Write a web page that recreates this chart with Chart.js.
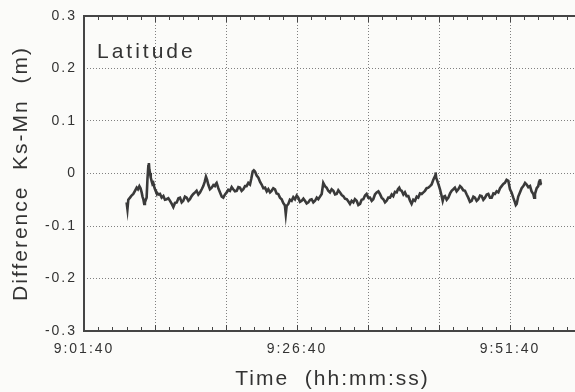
<!DOCTYPE html>
<html>
<head>
<meta charset="utf-8">
<script src="https://cdn.jsdelivr.net/npm/chart.js@4.4.1/dist/chart.umd.min.js"></script>
<style>
  html, body { margin: 0; padding: 0; background: #fbfbf9; overflow: hidden; }
  #wrap { width: 600px; height: 392px; }
</style>
</head>
<body>
<div id="wrap"><canvas id="chart" width="600" height="392"></canvas></div>
<script>
// time of day in seconds
const times = [
  32800, 32806, 32812, 32824, 32835, 32847, 32859, 32871, 32880, 32890,
  32898, 32906, 32912, 32918, 32924, 32929, 32935, 32941, 32947, 32953,
  32957, 32960, 32965, 32970, 32976, 32982, 32988, 32994, 33000, 33006,
  33012, 33024, 33035, 33047, 33059, 33070, 33082, 33094, 33106, 33118,
  33129, 33141, 33153, 33165, 33176, 33188, 33199, 33211, 33223, 33235,
  33246, 33258, 33270, 33282, 33293, 33305, 33317, 33329, 33340, 33350,
  33359, 33367, 33375, 33387, 33399, 33411, 33422, 33428, 33434, 33446,
  33458, 33470, 33481, 33493, 33505, 33516, 33528, 33540, 33551, 33563,
  33575, 33587, 33598, 33610, 33622, 33634, 33645, 33657, 33669, 33678,
  33688, 33696, 33704, 33716, 33728, 33740, 33751, 33763, 33775, 33787,
  33798, 33810, 33821, 33833, 33845, 33856, 33868, 33880, 33892, 33903,
  33915, 33921, 33927, 33939, 33950, 33962, 33974, 33986, 33998, 34009,
  34021, 34033, 34045, 34056, 34068, 34080, 34092, 34103, 34115, 34127,
  34139, 34150, 34162, 34174, 34185, 34197, 34209, 34220, 34232, 34244,
  34256, 34268, 34279, 34291, 34303, 34315, 34326, 34338, 34350, 34361,
  34373, 34385, 34397, 34408, 34420, 34432, 34444, 34455, 34467, 34479,
  34490, 34502, 34514, 34526, 34537, 34549, 34561, 34573, 34584, 34596,
  34608, 34620, 34631, 34643, 34655, 34667, 34678, 34690, 34702, 34711,
  34720, 34728, 34737, 34749, 34760, 34772, 34784, 34796, 34807, 34819,
  34831, 34843, 34854, 34866, 34878, 34890, 34901, 34913, 34925, 34937,
  34948, 34960, 34972, 34976, 34980, 34988, 34998, 35007, 35016, 35026,
  35034, 35042, 35054, 35066, 35078, 35089, 35101, 35112, 35124, 35136,
  35148, 35159, 35171, 35183, 35195, 35206, 35218, 35230, 35242, 35253,
  35265, 35277, 35289, 35300, 35312, 35324, 35336, 35347, 35359, 35371,
  35383, 35394, 35406, 35418, 35430, 35441, 35453, 35464, 35476, 35488,
  35500, 35511, 35523, 35535, 35541, 35547, 35558, 35570, 35582, 35594,
  35606, 35617, 35629, 35641, 35652, 35664, 35670, 35676, 35688, 35699,
  35705, 35711, 35717, 35723
];

// latitude difference Ks-Mn in metres
const diffs = [
  -0.055, -0.068, -0.050, -0.046, -0.042, -0.039, -0.033, -0.027, -0.030, -0.024,
  -0.028, -0.036, -0.044, -0.049, -0.058, -0.055, -0.050, -0.046, -0.010, 0.014,
  0.020, 0.008, 0.001, -0.008, -0.014, -0.020, -0.018, -0.025, -0.030, -0.034,
  -0.036, -0.040, -0.039, -0.046, -0.043, -0.050, -0.049, -0.047, -0.052, -0.058,
  -0.064, -0.056, -0.055, -0.047, -0.046, -0.055, -0.052, -0.044, -0.046, -0.052,
  -0.049, -0.043, -0.039, -0.036, -0.033, -0.040, -0.036, -0.030, -0.024, -0.016,
  -0.006, -0.012, -0.021, -0.030, -0.027, -0.022, -0.024, -0.020, -0.018, -0.028,
  -0.036, -0.044, -0.046, -0.040, -0.036, -0.031, -0.033, -0.026, -0.030, -0.034,
  -0.033, -0.026, -0.027, -0.033, -0.030, -0.024, -0.024, -0.018, -0.021, -0.010,
  0.004, 0.006, 0.004, -0.004, -0.008, -0.016, -0.021, -0.028, -0.027, -0.034,
  -0.030, -0.036, -0.033, -0.028, -0.030, -0.038, -0.039, -0.046, -0.049, -0.056,
  -0.061, -0.077, -0.062, -0.058, -0.050, -0.052, -0.045, -0.049, -0.042, -0.046,
  -0.054, -0.052, -0.048, -0.052, -0.057, -0.055, -0.050, -0.049, -0.055, -0.052,
  -0.046, -0.049, -0.044, -0.039, -0.018, -0.024, -0.027, -0.033, -0.036, -0.030,
  -0.033, -0.040, -0.039, -0.032, -0.036, -0.041, -0.043, -0.048, -0.049, -0.053,
  -0.058, -0.052, -0.055, -0.049, -0.052, -0.060, -0.058, -0.050, -0.049, -0.042,
  -0.039, -0.046, -0.046, -0.052, -0.049, -0.040, -0.036, -0.034, -0.039, -0.046,
  -0.049, -0.055, -0.052, -0.046, -0.046, -0.040, -0.043, -0.035, -0.036, -0.030,
  -0.027, -0.032, -0.033, -0.040, -0.036, -0.043, -0.043, -0.052, -0.058, -0.050,
  -0.052, -0.044, -0.046, -0.038, -0.039, -0.036, -0.033, -0.028, -0.027, -0.024,
  -0.021, -0.012, -0.005, 0.002, -0.008, -0.014, -0.022, -0.030, -0.040, -0.052,
  -0.044, -0.043, -0.050, -0.046, -0.038, -0.033, -0.030, -0.027, -0.034, -0.030,
  -0.024, -0.027, -0.032, -0.033, -0.040, -0.046, -0.054, -0.052, -0.044, -0.046,
  -0.052, -0.049, -0.042, -0.043, -0.050, -0.046, -0.040, -0.039, -0.046, -0.046,
  -0.038, -0.039, -0.034, -0.036, -0.028, -0.024, -0.020, -0.018, -0.012, -0.014,
  -0.030, -0.036, -0.046, -0.055, -0.060, -0.058, -0.044, -0.036, -0.028, -0.024,
  -0.018, -0.021, -0.026, -0.024, -0.034, -0.039, -0.046, -0.039, -0.028, -0.024,
  -0.016, -0.011, -0.020, -0.021
];

const timeLabels = ['9:01:40', '9:26:40', '9:51:40'];
const yTickValues = [0.3, 0.2, 0.1, 0, -0.1, -0.2, -0.3];

const FONT = '"Liberation Sans", Arial, Helvetica, sans-serif';
const INK = '#333333';
const GRID = '#808080';

function fmtTime(s) {
  const h = Math.floor(s / 3600);
  const m = Math.floor((s % 3600) / 60);
  const sec = s % 60;
  return h + ':' + String(m).padStart(2, '0') + ':' + String(sec).padStart(2, '0');
}

// axis frame, inward minor ticks and the panel label
const framePlugin = {
  id: 'frame',
  beforeDraw(chart) {
    chart.ctx.letterSpacing = '2px';
  },
  beforeDatasetsDraw(chart) {
    const { ctx, chartArea: a, scales } = chart;
    ctx.save();
    ctx.strokeStyle = '#454545';
    ctx.lineWidth = 2;
    ctx.beginPath();
    ctx.moveTo(a.right + 5, a.top);
    ctx.lineTo(a.left, a.top);
    ctx.lineTo(a.left, a.bottom);
    ctx.lineTo(a.right + 5, a.bottom);
    ctx.stroke();

    ctx.lineWidth = 1;
    for (let t = scales.x.min; t <= scales.x.max; t += 100) {
      const px = Math.round(scales.x.getPixelForValue(t)) + 0.5;
      const len = (t - scales.x.min) % 500 === 0 ? 6 : 4;
      ctx.beginPath();
      ctx.moveTo(px, a.bottom);
      ctx.lineTo(px, a.bottom - len);
      ctx.moveTo(px, a.top);
      ctx.lineTo(px, a.top + len);
      ctx.stroke();
    }
    ctx.restore();
  },
  afterDraw(chart) {
    const { ctx, chartArea: a } = chart;
    ctx.save();
    ctx.letterSpacing = '3px';
    ctx.fillStyle = INK;
    ctx.font = '21px ' + FONT;
    ctx.textBaseline = 'alphabetic';
    ctx.textAlign = 'left';
    ctx.fillText('Latitude', a.left + 13, a.top + 42);
    ctx.restore();
  }
};

const ctx = document.getElementById('chart').getContext('2d');
new Chart(ctx, {
  type: 'line',
  data: {
    datasets: [{
      data: times.map((t, i) => ({ x: t, y: diffs[i] })),
      borderColor: '#3a3a3a',
      borderWidth: 2.6,
      pointRadius: 0,
      tension: 0,
      fill: false
    }]
  },
  options: {
    responsive: false,
    animation: false,
    layout: { padding: { top: 16, right: 19, left: 0, bottom: 0 } },
    plugins: { legend: { display: false }, tooltip: { enabled: false } },
    scales: {
      x: {
        type: 'linear',
        min: 32500,
        max: 36000,
        afterFit: s => { s.height = 61; },
        ticks: {
          stepSize: 500,
          autoSkip: false,
          maxRotation: 0,
          padding: 10,
          color: INK,
          font: { family: FONT, size: 14 },
          callback: v => {
            const t = fmtTime(v);
            return timeLabels.includes(t) ? t : '';
          }
        },
        grid: { color: GRID, lineWidth: 1, drawTicks: false },
        border: { display: false, dash: [1, 2] },
        title: {
          display: true,
          text: 'Time  (hh:mm:ss)',
          color: INK,
          font: { family: FONT, size: 21 },
          padding: { top: 3, bottom: 0 }
        }
      },
      y: {
        min: -0.3,
        max: 0.3,
        afterFit: s => { s.width = 84; },
        afterBuildTicks: s => { s.ticks = yTickValues.map(v => ({ value: v })); },
        ticks: {
          padding: 7,
          color: INK,
          font: { family: FONT, size: 14 },
          callback: v => {
            const r = Math.round(v * 10) / 10;
            return r === 0 ? '0' : String(r);
          }
        },
        grid: { color: GRID, lineWidth: 1, drawTicks: false },
        border: { display: false, dash: [1, 2] },
        title: {
          display: true,
          text: 'Difference  Ks-Mn  (m)',
          color: INK,
          font: { family: FONT, size: 21 },
          padding: { top: 9, bottom: 0 }
        }
      }
    }
  },
  plugins: [framePlugin]
});
</script>
</body>
</html>
